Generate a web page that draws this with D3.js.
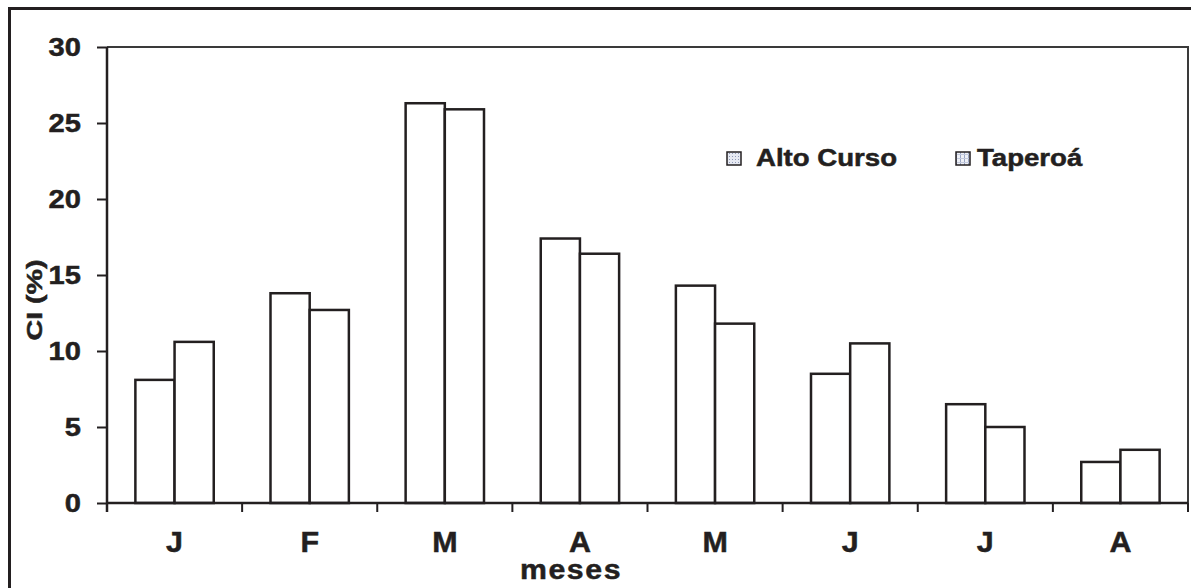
<!DOCTYPE html>
<html>
<head>
<meta charset="utf-8">
<script src="https://cdn.jsdelivr.net/npm/d3@7"></script>
<style>
  html, body { margin: 0; padding: 0; background: #fff; }
  svg { display: block; }
  text { font-family: "Liberation Sans", Arial, sans-serif; font-weight: bold; fill: #231f20; stroke: #231f20; stroke-width: 0.5px; }
</style>
</head>
<body>
<svg id="chart" width="1191" height="588"></svg>
<script>
// Monthly CI (%) for the two stretches of the river
const months = ["J", "F", "M", "A", "M", "J", "J", "A"];
const seriesNames = ["Alto Curso", "Taperoá"];
const altoCurso = [8.1, 13.8, 26.3, 17.4, 14.3, 8.5, 6.5, 2.7];
const taperoa = [10.6, 12.7, 25.9, 16.4, 11.8, 10.5, 5.0, 3.5];
const yTicks = [0, 5, 10, 15, 20, 25, 30];
const yTitle = "CI (%)";
const xTitle = "meses";

const ink = "#231f20";
const svg = d3.select("#chart");

// Plot area
const plot = { left: 107, right: 1188, top: 47, bottom: 503 };

const x = d3.scaleBand()
  .domain(d3.range(months.length))
  .range([plot.left, plot.right])
  .paddingInner(0.42)
  .paddingOuter(0.21);

const xs = d3.scaleBand()
  .domain([0, 1])
  .range([0, x.bandwidth()]);

const y = d3.scaleLinear()
  .domain([0, 30])
  .range([plot.bottom, plot.top]);

// Fine dotted fills for the legend keys
const defs = svg.append("defs");
const pA = defs.append("pattern").attr("id", "fillA")
  .attr("width", 3).attr("height", 3).attr("patternUnits", "userSpaceOnUse");
pA.append("rect").attr("width", 3).attr("height", 3).attr("fill", "#e6e9f2");
pA.append("rect").attr("width", 1).attr("height", 1).attr("fill", "#8f9ab8");
const pB = defs.append("pattern").attr("id", "fillB")
  .attr("width", 4).attr("height", 4).attr("patternUnits", "userSpaceOnUse");
pB.append("rect").attr("width", 4).attr("height", 4).attr("fill", "#eef0f6");
pB.append("rect").attr("x", 0).attr("width", 1).attr("height", 4).attr("fill", "#9aa6c4");
pB.append("rect").attr("y", 2).attr("width", 4).attr("height", 1).attr("fill", "#c3cade");

// Outer frame (left and top edges)
svg.append("path")
  .attr("d", "M9.5,588 V8.5 H1191")
  .attr("fill", "none").attr("stroke", ink).attr("stroke-width", 3);

// Plot area border (top and right)
svg.append("path")
  .attr("d", `M${plot.left},${plot.top} H${plot.right} V${plot.bottom}`)
  .attr("fill", "none").attr("stroke", "#3a3a3a").attr("stroke-width", 2);

// Bars
const rows = months.map((m, i) => ({ i, values: [altoCurso[i], taperoa[i]] }));
const groups = svg.append("g").selectAll("g").data(rows).join("g")
  .attr("transform", d => `translate(${x(d.i)},0)`);
groups.selectAll("rect").data(d => d.values.map((v, k) => ({ k, v }))).join("rect")
  .attr("x", d => xs(d.k))
  .attr("y", d => y(d.v))
  .attr("width", xs.bandwidth())
  .attr("height", d => y(0) - y(d.v))
  .attr("fill", "#fff")
  .attr("stroke", ink)
  .attr("stroke-width", 2.5);

// Y axis
const yAxis = svg.append("g")
  .attr("transform", `translate(${plot.left},0)`)
  .call(d3.axisLeft(y).tickValues(yTicks).tickSize(10).tickSizeOuter(0).tickFormat(""));
yAxis.select(".domain").remove();
yAxis.selectAll("line").attr("stroke", ink).attr("stroke-width", 2);
svg.append("line")
  .attr("x1", plot.left).attr("x2", plot.left)
  .attr("y1", plot.top).attr("y2", plot.bottom + 9)
  .attr("stroke", ink).attr("stroke-width", 2.5);

svg.append("g").selectAll("text").data(yTicks).join("text")
  .attr("transform", d => `translate(81,${y(d)}) scale(1.12,1)`)
  .attr("text-anchor", "end")
  .attr("dy", "0.36em")
  .style("font-size", "26px")
  .text(d => d);

// X axis: baseline, category separators and labels
svg.append("line")
  .attr("x1", plot.left).attr("x2", plot.right)
  .attr("y1", y(0)).attr("y2", y(0))
  .attr("stroke", ink).attr("stroke-width", 2.5);

const bounds = d3.range(months.length + 1).map(i => plot.left + i * x.step());
svg.append("g").selectAll("line").data(bounds).join("line")
  .attr("x1", d => d).attr("x2", d => d)
  .attr("y1", y(0)).attr("y2", y(0) + 9)
  .attr("stroke", ink).attr("stroke-width", 2);

svg.append("g").selectAll("text").data(rows).join("text")
  .attr("transform", d => `translate(${x(d.i) + x.bandwidth() / 2},552) scale(1.05,1)`)
  .attr("text-anchor", "middle")
  .style("font-size", "29px")
  .text(d => months[d.i]);

// Axis titles
svg.append("text")
  .attr("transform", "translate(571,579) scale(1.08,1)")
  .attr("text-anchor", "middle")
  .style("font-size", "28px")
  .style("letter-spacing", "1.5px")
  .text(xTitle);

svg.append("text")
  .attr("transform", "translate(42,300) rotate(-90) scale(1.3,1)")
  .attr("text-anchor", "middle")
  .style("font-size", "22px")
  .text(yTitle);

// Legend
const legendItems = [
  { name: seriesNames[0], key: 727, text: 756, fill: "url(#fillA)" },
  { name: seriesNames[1], key: 956, text: 977, fill: "url(#fillB)" }
];
const lg = svg.append("g").selectAll("g").data(legendItems).join("g");
lg.append("rect")
  .attr("x", d => d.key).attr("y", 152)
  .attr("width", 14).attr("height", 13)
  .attr("fill", d => d.fill)
  .attr("stroke", ink).attr("stroke-width", 1.5);
lg.append("text")
  .attr("transform", d => `translate(${d.text},166) scale(1.15,1)`)
  .style("font-size", "24px")
  .text(d => d.name);
</script>
</body>
</html>
